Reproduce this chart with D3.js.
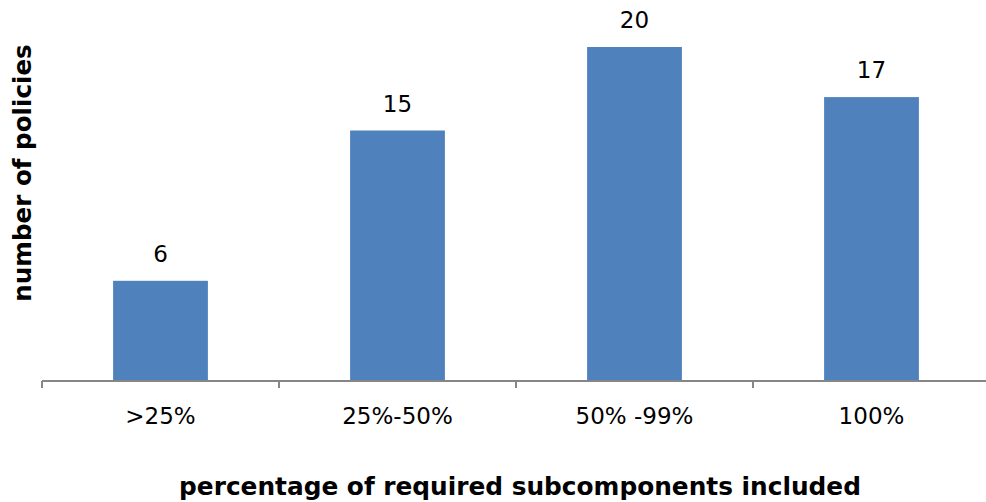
<!DOCTYPE html>
<html>
<head>
<meta charset="utf-8">
<script src="https://cdn.jsdelivr.net/npm/d3@7"></script>
<style>
  body { margin: 0; background: #fff; }
  text { font-family: "DejaVu Sans", sans-serif; fill: #000; }
</style>
</head>
<body>
<div id="chart"></div>
<script>
const categories = [">25%", "25%-50%", "50% -99%", "100%"];
const policyCounts = [6, 15, 20, 17];

const width = 986;
const height = 502;
const margin = { left: 42, right: -4, top: 47, bottom: 120 };

let setup = () => {
  const data = categories.map((c, i) => ({ cat: c, value: policyCounts[i] }));

  const x = d3.scaleBand()
    .domain(categories)
    .range([margin.left, width - margin.right])
    .padding(0);

  const y = d3.scaleLinear()
    .domain([0, 20])
    .range([height - margin.bottom - 1, margin.top]);

  const svg = d3.select("#chart").append("svg")
    .attr("width", width)
    .attr("height", height);

  const barW = x.bandwidth() * 0.4;

  svg.selectAll("rect.bar")
    .data(data)
    .enter().append("rect")
    .attr("class", "bar")
    .attr("x", d => x(d.cat) + (x.bandwidth() - barW) / 2)
    .attr("y", d => y(d.value))
    .attr("width", barW)
    .attr("height", d => y(0) - y(d.value))
    .attr("fill", "#4f81bd");

  // value labels
  svg.selectAll("text.val")
    .data(data)
    .enter().append("text")
    .attr("class", "val")
    .attr("x", d => x(d.cat) + x.bandwidth() / 2)
    .attr("y", d => y(d.value) - 19)
    .attr("text-anchor", "middle")
    .style("font-size", "23px")
    .text(d => d.value);

  // x axis
  const axisG = svg.append("g")
    .attr("transform", "translate(0," + y(0) + ")");

  axisG.append("line")
    .attr("x1", x.range()[0])
    .attr("x2", width)
    .attr("stroke", "#868686")
    .attr("stroke-width", 2);

  const tickXs = categories.map(c => x(c)).concat([x.range()[1]]);
  axisG.selectAll("line.tick")
    .data(tickXs)
    .enter().append("line")
    .attr("class", "tick")
    .attr("x1", d => d).attr("x2", d => d)
    .attr("y1", 0).attr("y2", 7)
    .attr("stroke", "#868686")
    .attr("stroke-width", 2);

  axisG.selectAll("text.lbl")
    .data(categories)
    .enter().append("text")
    .attr("class", "lbl")
    .attr("x", d => x(d) + x.bandwidth() / 2)
    .attr("y", 43)
    .attr("text-anchor", "middle")
    .style("font-size", "23px")
    .text(d => d);

  svg.append("text")
    .attr("x", 520)
    .attr("y", 495)
    .attr("text-anchor", "middle")
    .style("font-size", "24.8px")
    .style("font-weight", "bold")
    .text("percentage of required subcomponents included");

  svg.append("text")
    .attr("transform", "translate(31,173) rotate(-90)")
    .attr("text-anchor", "middle")
    .style("font-size", "24.6px")
    .style("font-weight", "bold")
    .text("number of policies");
};

setup();
</script>
</body>
</html>
